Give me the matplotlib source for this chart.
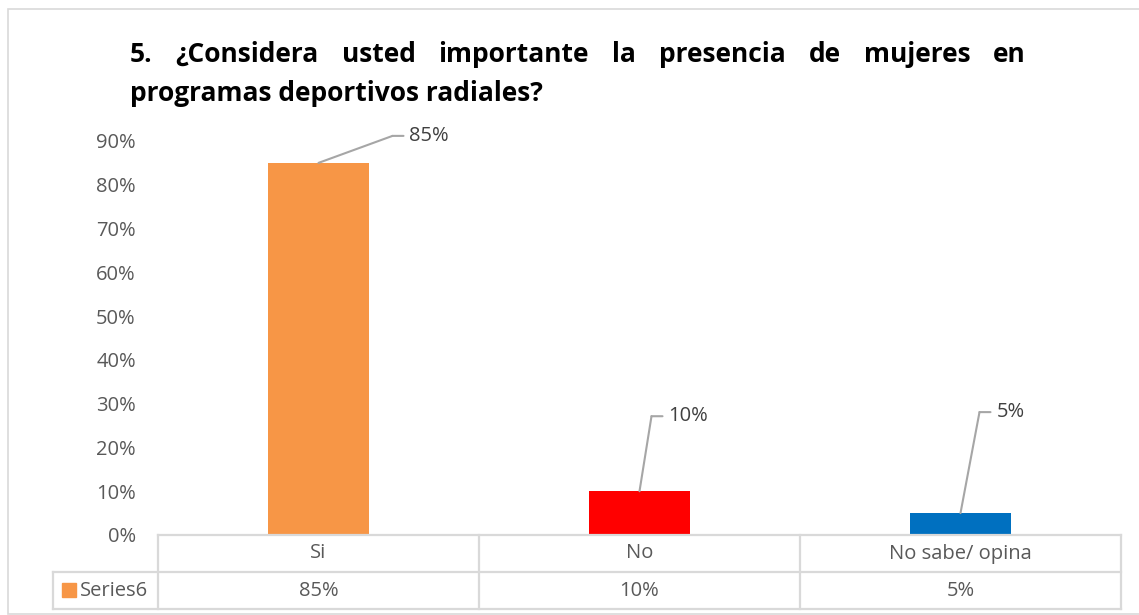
import matplotlib
matplotlib.use("Agg")
import matplotlib.pyplot as plt
from matplotlib.lines import Line2D
from matplotlib.patches import Rectangle
import matplotlib.transforms as mtransforms

# ---- data ----
categories = ["Si", "No", "No sabe/ opina"]
values = [0.85, 0.10, 0.05]
value_labels = ["85%", "10%", "5%"]
series_name = "Series6"
bar_colors = ["#F79646", "#FF0000", "#0070C0"]
yticks = [0, 0.1, 0.2, 0.3, 0.4, 0.5, 0.6, 0.7, 0.8, 0.9]
ytick_labels = ["0%", "10%", "20%", "30%", "40%", "50%", "60%", "70%", "80%", "90%"]
title_line1 = "5. ¿Considera usted importante la presencia de mujeres en"
title_line2 = "programas deportivos radiales?"

W, H = 1139, 615
FONT = "Open Sans"
FS = 14.5
GRAY = "#595959"
LINEC = "#D9D9D9"

fig = plt.figure(figsize=(W / 100, H / 100), dpi=100)

def fx(px):
    return px / W

def fy(py):
    return 1 - py / H

# chart border
fig.add_artist(Rectangle((fx(8), fy(614)), fx(1140) - fx(8), fy(9) - fy(614),
                         transform=fig.transFigure, fill=False, edgecolor=LINEC, lw=1.2))

ax = fig.add_axes([fx(158), fy(535), fx(1121) - fx(158), fy(141) - fy(535)])
x = list(range(len(categories)))
ax.bar(x, values, width=0.315, color=bar_colors, zorder=3)
ax.set_xlim(-0.5, len(categories) - 0.5)
ax.set_ylim(0, 0.9)
ax.set_yticks(yticks)
ax.set_yticklabels(ytick_labels, fontsize=FS, color=GRAY, family=FONT)
ax.tick_params(axis="y", length=0, pad=16)
ax.set_xticks([])
for s in ax.spines.values():
    s.set_visible(False)

# leader lines + labels (pixel offsets)
leader = [(74, 27), (12, 75), (19, 101)]
pt = 0.72
for xi, v, lab, (dx, dy) in zip(x, values, value_labels, leader):
    ax.annotate("", xy=(xi, v), xytext=(dx * pt, dy * pt), textcoords="offset points",
                arrowprops=dict(arrowstyle="-", color="#A6A6A6", lw=1.5, shrinkA=0, shrinkB=0))
    seg = mtransforms.offset_copy(ax.transData, fig=fig, x=dx * pt, y=dy * pt, units="points")
    ax.annotate("", xy=(xi, v), xycoords=seg, xytext=(11 * pt, 0), textcoords="offset points",
                arrowprops=dict(arrowstyle="-", color="#A6A6A6", lw=1.5, shrinkA=0, shrinkB=0))
    ax.annotate(lab, xy=(xi, v), xycoords=seg, xytext=(17 * pt, 0), textcoords="offset points",
                ha="left", va="center", fontsize=FS, color="#404040", family=FONT)

# data table
blend = mtransforms.blended_transform_factory(ax.transData, fig.transFigure)
y_top, y_mid, y_bot = fy(535), fy(572), fy(609)
lkw = dict(color=LINEC, lw=1.6, clip_on=False)
fig.add_artist(Line2D([fx(158), fx(1121)], [y_top, y_top], transform=fig.transFigure, **lkw))
fig.add_artist(Line2D([fx(53), fx(1121)], [y_mid, y_mid], transform=fig.transFigure, **lkw))
fig.add_artist(Line2D([fx(53), fx(1121)], [y_bot, y_bot], transform=fig.transFigure, **lkw))
fig.add_artist(Line2D([fx(53), fx(53)], [y_mid, y_bot], transform=fig.transFigure, **lkw))
n = len(categories)
for b in [i - 0.5 for i in range(n + 1)]:
    fig.add_artist(Line2D([b, b], [y_top, y_bot], transform=blend, **lkw))
for xi, c, lab in zip(x, categories, value_labels):
    fig.text(xi, (y_top + y_mid) / 2, c, transform=blend, ha="center", va="center",
             fontsize=FS, color=GRAY, family=FONT)
    fig.text(xi, (y_mid + y_bot) / 2, lab, transform=blend, ha="center", va="center",
             fontsize=FS, color=GRAY, family=FONT)
fig.add_artist(Rectangle((fx(62), fy(597)), fx(76) - fx(62), fy(583) - fy(597),
                         transform=fig.transFigure, color=bar_colors[0]))
fig.text(fx(80), (y_mid + y_bot) / 2, series_name, ha="left", va="center",
         fontsize=FS, color=GRAY, family=FONT)

# justified title
fig.canvas.draw()
r = fig.canvas.get_renderer()
x0, x1, x2 = 130, 1026, 545
tkw = dict(fontsize=18, fontweight="bold", family=FONT, color="black", va="baseline")
t2 = fig.text(fx(x0), fy(101), title_line2, **tkw)
w2 = t2.get_window_extent(r).width
fsz = 18 * (x2 - x0) / w2
t2.set_fontsize(fsz)
tkw["fontsize"] = fsz
words = title_line1.split(" ")
ts = [fig.text(0, fy(62), w_, **tkw) for w_ in words]
widths = [t.get_window_extent(r).width for t in ts]
gap = (x1 - x0 - sum(widths)) / (len(words) - 1)
cur = x0
for t, wd in zip(ts, widths):
    t.set_x(fx(cur))
    cur += wd + gap

fig.savefig("out.png", dpi=100, facecolor="white")
